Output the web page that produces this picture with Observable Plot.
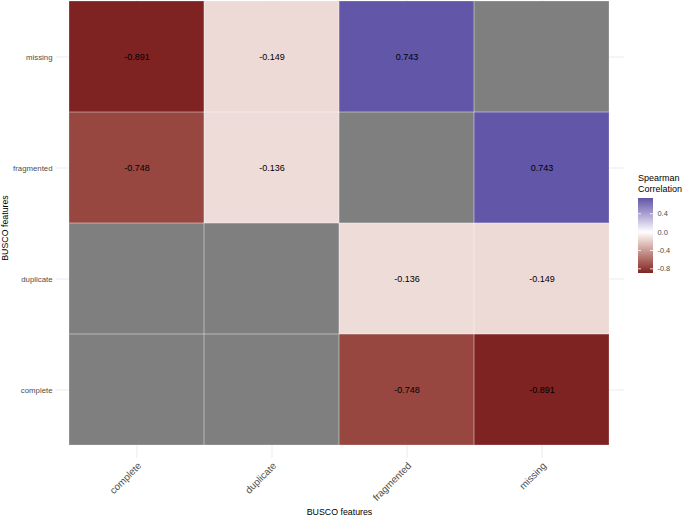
<!DOCTYPE html>
<html>
<head>
<meta charset="utf-8">
<script src="https://cdn.jsdelivr.net/npm/d3@7"></script>
<script src="https://cdn.jsdelivr.net/npm/@observablehq/plot@0.6"></script>
<style>
  html, body { margin: 0; padding: 0; background: #fff; }
  #wrap { position: relative; width: 685px; height: 517px; font-family: "Liberation Sans", Arial, sans-serif; }
  #legend { position: absolute; left: 0; top: 0; pointer-events: none; }
</style>
</head>
<body>
<div id="wrap"></div>
<script>
// ---- data ----
const xCategories = ["complete", "duplicate", "fragmented", "missing"];
const yCategories = ["complete", "duplicate", "fragmented", "missing"]; // bottom to top
const cellX = ["complete", "duplicate", "fragmented", "missing",
               "complete", "duplicate", "fragmented", "missing",
               "complete", "duplicate", "fragmented", "missing",
               "complete", "duplicate", "fragmented", "missing"];
const cellY = ["missing", "missing", "missing", "missing",
               "fragmented", "fragmented", "fragmented", "fragmented",
               "duplicate", "duplicate", "duplicate", "duplicate",
               "complete", "complete", "complete", "complete"];
const cellValue = [-0.891, -0.149, 0.743, null,
                   -0.748, -0.136, null, 0.743,
                   null, null, -0.136, -0.149,
                   null, null, -0.748, -0.891];
const legendTicks = [0.4, 0.0, -0.4, -0.8];
const legendTickLabels = ["0.4", "0.0", "-0.4", "-0.8"];
const colorLimits = [-0.891, 0.743];

const cells = cellX.map((x, i) => ({x, y: cellY[i], v: cellValue[i]}));
const font = '"Liberation Sans", Arial, sans-serif';

const W = 685, H = 517;
const plot = Plot.plot({
  width: W,
  height: H,
  marginLeft: 56,
  marginRight: 61.5,
  marginTop: 0,
  marginBottom: 59,
  style: {fontFamily: font, background: "transparent"},
  x: {type: "band", domain: xCategories, range: [69, 609.5], padding: 0, axis: null},
  y: {type: "band", domain: yCategories.slice().reverse(), range: [0, 446], padding: 0, axis: null},
  color: {type: "linear", domain: [colorLimits[0], 0, colorLimits[1]],
          range: ["#7f2222", "#ffffff", "#6156a8"], interpolate: "lab"},
  marks: [
    Plot.ruleX(xCategories, {x: d => d, stroke: "#ebebeb", strokeWidth: 1}),
    Plot.ruleY(yCategories, {y: d => d, stroke: "#ebebeb", strokeWidth: 1}),
    Plot.cell(cells.filter(d => d.v == null), {x: "x", y: "y", fill: "#7f7f7f", inset: 0}),
    Plot.cell(cells.filter(d => d.v != null), {x: "x", y: "y", fill: "v", inset: 0}),
    Plot.cell(cells, {x: "x", y: "y", fill: "none", stroke: "white", strokeOpacity: 0.35, strokeWidth: 0.7, inset: 0}),
    Plot.text(cells.filter(d => d.v != null), {x: "x", y: "y", text: d => d.v.toFixed(3), fontSize: 9, fill: "#000"}),
    // y tick labels
    Plot.text(yCategories, {y: d => d, text: d => d, frameAnchor: "left", textAnchor: "end", dx: -4, fontSize: 7.8, fill: "#4d4d4d"}),
    // x tick labels, rotated 45°
    Plot.text(xCategories, {x: d => d, text: d => d, frameAnchor: "bottom", rotate: -45, textAnchor: "end", lineAnchor: "top", dy: 3, fontSize: 9.8, fill: "#4d4d4d"})
  ]
});

const wrap = document.getElementById("wrap");
wrap.appendChild(plot);

const svg = d3.select(plot);
// axis titles
svg.append("text")
  .attr("x", 339.5).attr("y", 515)
  .attr("text-anchor", "middle")
  .attr("font-size", 8.8).attr("font-family", font).attr("fill", "#000")
  .text("BUSCO features");
svg.append("text")
  .attr("transform", "translate(8,228) rotate(-90)")
  .attr("text-anchor", "middle")
  .attr("font-size", 8.8).attr("font-family", font).attr("fill", "#000")
  .text("BUSCO features");

// ---- legend (vertical colourbar) ----
const colorScale = plot.scale("color");
const barX = 638, barW = 15, barTop = 198, barBottom = 273;
const lg = d3.select(wrap).append("svg")
  .attr("id", "legend").attr("width", W).attr("height", H);
const ly = d3.scaleLinear().domain([colorLimits[1], colorLimits[0]]).range([barTop, barBottom]);
const grad = lg.append("defs").append("linearGradient")
  .attr("id", "lgGrad").attr("x1", 0).attr("x2", 0).attr("y1", 0).attr("y2", 1);
const nStops = 40;
for (let i = 0; i <= nStops; i++) {
  const v = colorLimits[1] + (colorLimits[0] - colorLimits[1]) * i / nStops;
  grad.append("stop").attr("offset", (i / nStops)).attr("stop-color", colorScale.apply(v));
}
lg.append("rect").attr("x", barX).attr("y", barTop).attr("width", barW).attr("height", barBottom - barTop)
  .attr("fill", "url(#lgGrad)");
legendTicks.forEach((t, i) => {
  const yy = ly(t);
  lg.append("line").attr("x1", barX).attr("x2", barX + 3).attr("y1", yy).attr("y2", yy)
    .attr("stroke", "white").attr("stroke-width", 0.8);
  lg.append("line").attr("x1", barX + barW - 3).attr("x2", barX + barW).attr("y1", yy).attr("y2", yy)
    .attr("stroke", "white").attr("stroke-width", 0.8);
  lg.append("text").attr("x", barX + barW + 4.5).attr("y", yy).attr("dy", "0.35em")
    .attr("font-size", 7.4).attr("font-family", font).attr("fill", "#4d4d4d")
    .text(legendTickLabels[i]);
});
lg.append("text").attr("x", barX).attr("y", 181)
  .attr("font-size", 9).attr("font-family", font).attr("fill", "#000").text("Spearman");
lg.append("text").attr("x", barX).attr("y", 192)
  .attr("font-size", 9).attr("font-family", font).attr("fill", "#000").text("Correlation");
</script>
</body>
</html>
